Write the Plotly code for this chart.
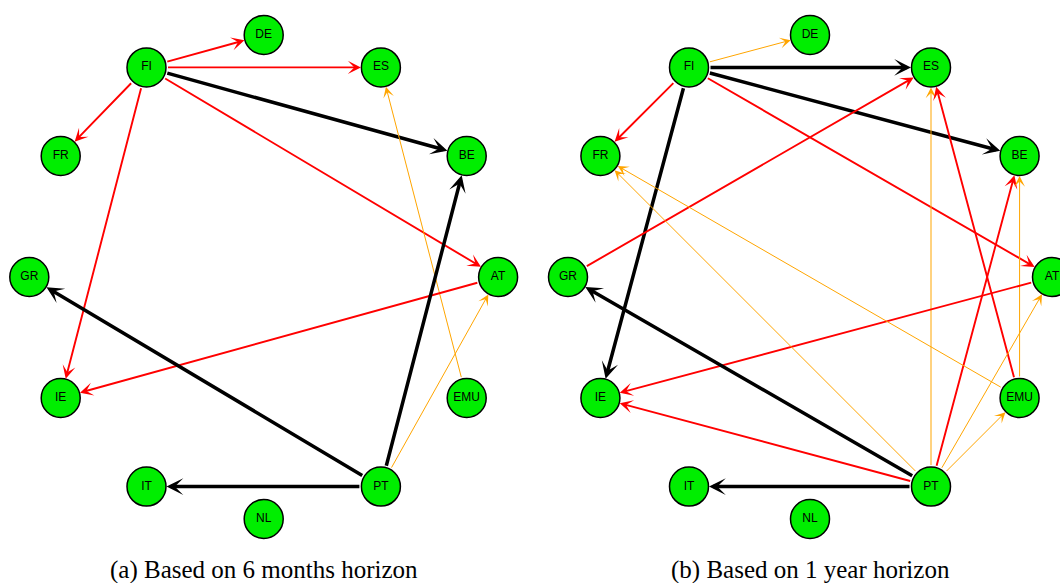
import numpy as np
import plotly.graph_objects as go

W, H = 1060, 583

# Countries, placed clockwise around a circle starting from the top
nodes = ["DE", "ES", "BE", "AT", "EMU", "PT", "NL", "IT", "IE", "GR", "FR", "FI"]

# Panel (a): 6 months horizon
src_a = ["FI", "FI", "FI", "FI", "FI", "FI", "EMU", "AT", "PT", "PT", "PT", "PT"]
dst_a = ["DE", "ES", "FR", "IE", "AT", "BE", "ES", "IE", "BE", "GR", "IT", "AT"]
lvl_a = ["mid", "mid", "mid", "mid", "mid", "strong", "weak", "mid",
         "strong", "strong", "strong", "weak"]

# Panel (b): 1 year horizon
src_b = ["FI", "FI", "FI", "FI", "FI", "FI", "GR", "PT", "EMU", "PT",
         "EMU", "AT", "EMU", "PT", "PT", "PT", "PT", "PT", "PT"]
dst_b = ["DE", "ES", "BE", "FR", "IE", "AT", "ES", "ES", "ES", "BE",
         "BE", "IE", "FR", "FR", "GR", "IE", "IT", "EMU", "AT"]
lvl_b = ["weak", "strong", "strong", "mid", "strong", "mid", "mid", "weak", "mid", "mid",
         "weak", "mid", "weak", "weak", "strong", "mid", "strong", "weak", "weak"]

captions = ["(a) Based on 6 months horizon", "(b) Based on 1 year horizon"]

# Edge styles per strength level: colour, line width, arrow scale
STYLE = {
    "strong": dict(arrowcolor="black", arrowwidth=3.5, arrowsize=0.8),
    "mid": dict(arrowcolor="red", arrowwidth=1.9, arrowsize=1.15),
    "weak": dict(arrowcolor="orange", arrowwidth=1.0, arrowsize=1.8),
}

NODE_R = 20
panels = [
    dict(cx=263.7, cy=277, rx=234.4, ry=242, src=src_a, dst=dst_a, lvl=lvl_a, cap=captions[0]),
    dict(cx=810.0, cy=277, rx=242.0, ry=242, src=src_b, dst=dst_b, lvl=lvl_b, cap=captions[1]),
]

fig = go.Figure()
annotations = []
angles = np.deg2rad(90 - 30 * np.arange(len(nodes)))

for p in panels:
    xs = p["cx"] + p["rx"] * np.cos(angles)
    ys = p["cy"] - p["ry"] * np.sin(angles)
    pos = {n: (x, y) for n, x, y in zip(nodes, xs, ys)}

    for s, d, lv in zip(p["src"], p["dst"], p["lvl"]):
        x0, y0 = pos[s]
        x1, y1 = pos[d]
        annotations.append(dict(
            x=x1, y=y1, ax=x0, ay=y0,
            xref="x", yref="y", axref="x", ayref="y",
            text="", showarrow=True, arrowhead=3,
            standoff=NODE_R, startstandoff=NODE_R,
            **STYLE[lv],
        ))

    fig.add_trace(go.Scatter(
        x=xs, y=ys, mode="markers+text", text=nodes,
        textposition="middle center",
        textfont=dict(family="Liberation Sans, Arial, sans-serif", size=12, color="black"),
        marker=dict(size=2 * NODE_R - 1, color="#00ee00",
                    line=dict(color="black", width=1.5)),
        hoverinfo="text", showlegend=False,
    ))

    annotations.append(dict(
        x=p["cx"], y=570, xref="x", yref="y", showarrow=False,
        text=p["cap"], font=dict(family="Liberation Serif, Times New Roman, serif",
                                 size=25, color="black"),
    ))

fig.update_layout(
    width=W, height=H,
    margin=dict(l=0, r=0, t=0, b=0),
    paper_bgcolor="white", plot_bgcolor="white",
    xaxis=dict(range=[0, W], visible=False, fixedrange=True),
    yaxis=dict(range=[H, 0], visible=False, fixedrange=True),
    annotations=annotations,
    showlegend=False,
)

fig.write_html("out.html")
